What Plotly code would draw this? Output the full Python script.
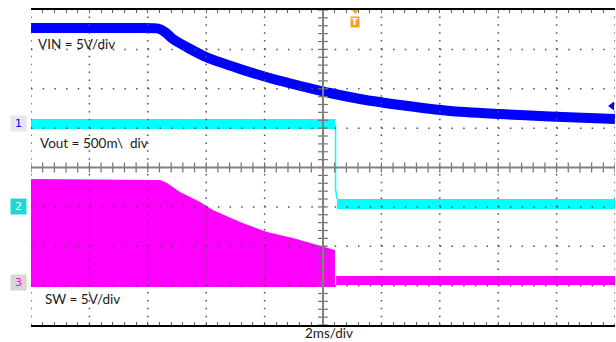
import plotly.graph_objects as go

# ---- data (time in ms, 2 ms/div; amplitude in screen divisions from centre) ----
vin_t = [-10, -7.64, -6.27, -5.65, -5.41, -5.14, -4.55, -3.97, -2.84, -1.71, -0.55,
         0.24, 1.27, 2.64, 4.35, 6.06, 7.77, 10]
vin_v = [3.543, 3.543, 3.543, 3.530, 3.441, 3.263, 3.010, 2.794, 2.502, 2.248, 2.032,
         1.892, 1.740, 1.587, 1.435, 1.359, 1.295, 1.232]

vout_before_t = [-10, 0.41]
vout_before_v = [1.105, 1.105]
vout_drop_t = [0.43, 0.43, 0.48]
vout_drop_v = [1.105, -0.55, -0.80]
vout_after_t = [0.48, 10]
vout_after_v = [-0.927, -0.927]

sw_t = [-10, -5.58, -5.34, -4.90, -4.21, -3.77, -2.84, -1.92, -1.03, -0.34, 0.24, 0.41]
sw_top = [-0.292, -0.317, -0.394, -0.622, -0.876, -1.079, -1.384, -1.638, -1.790,
          -1.943, -2.070, -2.095]
sw_floor = -3.035
sw_after_t = [0.45, 10]
sw_after_v = [-2.870, -2.870]

ch_levels = [1.105, -0.978, -2.908]          # ground markers 1, 2, 3
trigger_t = 1.1
vin_marker_v = 1.562

labels = ["VIN = 5V/div", "Vout = 500m\\\u00a0\u00a0div", "SW = 5V/div"]
label_pos = [(-9.83, 3.137), (-9.76, 0.622), (-9.59, -3.34)]
time_label = "2ms/div"

BLUE = "#0000FF"
CYAN = "#00FFFF"
MAG = "#FF00FF"
FONT = "Lato"

fig = go.Figure()

# SW filled switching envelope
fig.add_trace(go.Scatter(
    x=sw_t + sw_t[::-1], y=sw_top + [sw_floor] * len(sw_t),
    fill="toself", fillcolor=MAG, line=dict(width=0), mode="lines",
    hoverinfo="skip", showlegend=False))
fig.add_trace(go.Scatter(x=sw_after_t, y=sw_after_v, mode="lines",
                         line=dict(color=MAG, width=9), showlegend=False))

# Vout
fig.add_trace(go.Scatter(x=vout_before_t, y=vout_before_v, mode="lines",
                         line=dict(color=CYAN, width=10), showlegend=False))
fig.add_trace(go.Scatter(x=vout_drop_t, y=vout_drop_v, mode="lines",
                         line=dict(color=CYAN, width=1.5), showlegend=False))
fig.add_trace(go.Scatter(x=vout_after_t, y=vout_after_v, mode="lines",
                         line=dict(color=CYAN, width=10), showlegend=False))

# VIN
fig.add_trace(go.Scatter(x=vin_t, y=vin_v, mode="lines",
                         line=dict(color=BLUE, width=10, shape="spline", smoothing=0.6),
                         showlegend=False))

# ---- graticule (drawn above the traces) ----
shapes = []
for i in range(11):
    t = -10 + 2 * i
    if i == 5:
        continue
    shapes.append(dict(type="line", xref="x", yref="y", x0=t, x1=t, y0=-4, y1=4,
                       layer="above", line=dict(color="#505050", width=1.5,
                                                dash="1.5px,6.375px")))
for j in range(1, 8):
    v = -4 + j
    if j == 4:
        continue
    shapes.append(dict(type="line", xref="x", yref="y", x0=-10, x1=10, y0=v, y1=v,
                       layer="above", line=dict(color="#505050", width=1.5,
                                                dash="1.5px,10.18px")))
shapes.append(dict(type="line", xref="x", yref="y", x0=0, x1=0, y0=-4, y1=4,
                   layer="above", line=dict(color="#808080", width=2)))
shapes.append(dict(type="line", xref="x", yref="y", x0=-10, x1=10, y0=0, y1=0,
                   layer="above", line=dict(color="#808080", width=2)))

# centre-line ticks
tick_x = [-10 + 0.4 * k for k in range(51)]
tick_y = [-4 + 0.2 * k for k in range(41)]
fig.add_trace(go.Scatter(x=tick_x, y=[0] * len(tick_x), mode="markers",
                         marker=dict(symbol="line-ns", size=7,
                                     line=dict(color="#707070", width=1.2)),
                         hoverinfo="skip", showlegend=False))
fig.add_trace(go.Scatter(x=[0] * len(tick_y), y=tick_y, mode="markers",
                         marker=dict(symbol="line-ew", size=7,
                                     line=dict(color="#707070", width=1.2)),
                         hoverinfo="skip", showlegend=False))

# trigger marker and VIN position marker
fig.add_trace(go.Scatter(x=[trigger_t], y=[4], mode="markers", cliponaxis=False,
                         marker=dict(symbol="triangle-down", size=8, color="#F5A31A"),
                         showlegend=False))
fig.add_trace(go.Scatter(x=[9.9], y=[vin_marker_v], mode="markers", cliponaxis=False,
                         marker=dict(symbol="triangle-left", size=8, color=BLUE),
                         showlegend=False))

annotations = []
for txt, (x, y) in zip(labels, label_pos):
    annotations.append(dict(x=x, y=y, xref="x", yref="y", text=txt, showarrow=False,
                            xanchor="left", yanchor="middle",
                            font=dict(family=FONT, size=13.5, color="#1a1a1a")))
annotations.append(dict(x=0.205, y=-0.025, xref="x", yref="paper", text=time_label,
                        showarrow=False, xanchor="center", yanchor="middle",
                        font=dict(family=FONT, size=13.5, color="#1a1a1a")))
annotations.append(dict(x=trigger_t, y=0.963, xref="x", yref="paper", text="<b>T</b>",
                        showarrow=False, xanchor="center", yanchor="middle",
                        bgcolor="#F5A31A", width=8, height=10, borderpad=0,
                        font=dict(family="DejaVu Sans", size=9, color="white")))
marker_style = [("1", BLUE, "#e6e6ee"), ("2", "white", "#22d6d6"), ("3", MAG, "#d6d6d6")]
for (txt, fc, bg), lv in zip(marker_style, ch_levels):
    annotations.append(dict(x=-0.022, y=lv, xref="paper", yref="y", text=txt,
                            showarrow=False, xanchor="center", yanchor="middle",
                            bgcolor=bg, width=13, height=13,
                            font=dict(family="DejaVu Sans", size=11, color=fc)))

fig.update_layout(
    width=616, height=342,
    margin=dict(l=31, r=1, t=10, b=17),
    paper_bgcolor="white", plot_bgcolor="white",
    shapes=shapes, annotations=annotations, showlegend=False,
    xaxis=dict(range=[-10, 10], showgrid=False, zeroline=False, showline=True,
               linecolor="black", linewidth=2, mirror="allticks",
               ticks="inside", ticklen=3, tickcolor="#606060",
               tickmode="linear", tick0=-10, dtick=0.4, showticklabels=False,
               layer="above traces"),
    yaxis=dict(range=[-4, 4], showgrid=False, zeroline=False, showline=False,
               showticklabels=False, ticks=""),
)

fig.write_html("out.html", config={"displayModeBar": False},
               post_script="document.body.style.margin='0';"
                           "document.body.style.overflow='hidden';")
